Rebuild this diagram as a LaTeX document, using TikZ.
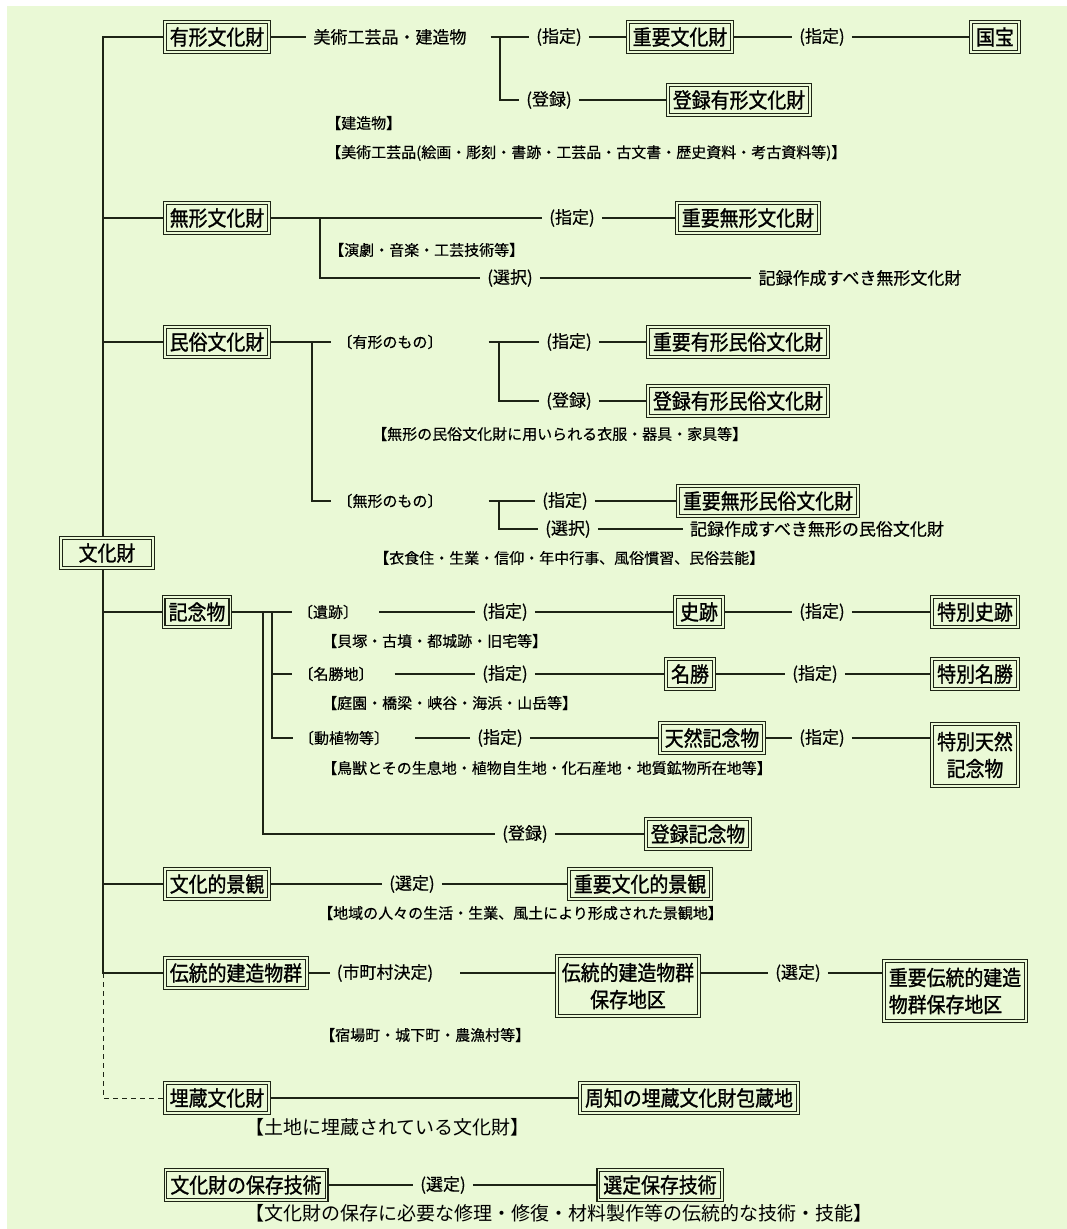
\documentclass[tikz,border=0pt]{standalone}
\usepackage{fontspec}
\setmainfont{Noto Sans CJK JP}
\newfontfamily\jpBoxFam[FakeStretch=0.9,FakeBold=1.2]{Noto Sans CJK JP}
\newfontfamily\jpFam[FakeBold=0.4]{Noto Sans CJK JP}
\newfontfamily\jpPlainFam{Noto Sans CJK JP}
\newcommand\jpBox{\jpBoxFam\fontsize{21}{27}\selectfont}
\newcommand\jpLbl{\jpFam\fontsize{17}{19}\selectfont}
\newcommand\jpNote{\jpFam\fontsize{15}{17}\selectfont}
\newcommand\jpPlain{\jpPlainFam\fontsize{19}{21}\selectfont}
\definecolor{paper}{RGB}{234,249,214}
\definecolor{ink}{RGB}{30,36,22}

\pgfdeclarelayer{paperlayer}
\pgfdeclarelayer{wires}
\pgfsetlayers{paperlayer,wires,main}

\tikzset{
  box/.style={draw=ink, line width=1.1pt, double=paper, double distance=1.6pt,
    fill=paper, font=\jpBox, inner xsep=5pt, inner ysep=3pt, minimum height=30pt},
  lbl/.style={font=\jpLbl, inner xsep=7pt, inner ysep=2pt},
  brk/.style={font=\jpNote, inner xsep=6pt, inner ysep=2pt},
  note/.style={font=\jpNote, anchor=west, inner sep=0pt},
  plain/.style={font=\jpPlain, anchor=west, inner sep=0pt},
  wire/.style={draw=ink, line width=1.4pt},
  dashwire/.style={draw=ink, line width=1pt, dash pattern=on 5pt off 4pt},
}

\begin{document}
\begin{tikzpicture}[x=1pt, y=-1pt]
\begin{pgfonlayer}{paperlayer}
  \fill[white] (0,0) rectangle (1067,1229);
  \fill[paper] (7,6) rectangle (1067,1229);
\end{pgfonlayer}
\useasboundingbox (0,0) rectangle (1067,1229);

% ---- 有形文化財 ----
\node[box] (yukei) at (217,37) {有形文化財};
\node[lbl] (bijutsu) at (390,37) {美術工芸品・建造物};
\coordinate (jA) at (500,37);
\node[lbl] (shiteiA) at (559,37) {(指定)};
\node[box] (juyo) at (680,37) {重要文化財};
\node[lbl] (shiteiB) at (822,37) {(指定)};
\node[box] (kokuho) at (995,37) {国宝};
\node[lbl] (torokuA) at (549,100) {(登録)};
\node[box] (torokuyukei) at (739,100) {登録有形文化財};
\node[note] (noteA) at (326,123) {【建造物】};
\node[note] (noteB) at (326,153) {【美術工芸品(絵画・彫刻・書跡・工芸品・古文書・歴史資料・考古資料等)】};

% ---- 無形文化財 ----
\node[box] (mukei) at (217,218) {無形文化財};
\coordinate (jB) at (320,218);
\node[lbl] (shiteiC) at (572,218) {(指定)};
\node[box] (juyomukei) at (748,218) {重要無形文化財};
\node[lbl] (sentakuA) at (510,278) {(選択)};
\node[lbl] (kirokuA) at (860,278) {記録作成すべき無形文化財};
\node[note] (noteC) at (329,250) {【演劇・音楽・工芸技術等】};

% ---- 民俗文化財 ----
\node[box] (minzoku) at (217,342) {民俗文化財};
\coordinate (jC) at (312,342);
\node[brk] (yukeimono) at (390,342) {〔有形のもの〕};
\coordinate (jD) at (499,342);
\node[lbl] (shiteiD) at (569,342) {(指定)};
\node[box] (juyoyukeiminzoku) at (738,342) {重要有形民俗文化財};
\node[lbl] (torokuB) at (569,401) {(登録)};
\node[box] (torokuminzoku) at (738,401) {登録有形民俗文化財};
\node[note] (noteD) at (372,434) {【無形の民俗文化財に用いられる衣服・器具・家具等】};
\node[brk] (mukeimono) at (390,501) {〔無形のもの〕};
\coordinate (jE) at (499,501);
\node[lbl] (shiteiE) at (565,501) {(指定)};
\node[box] (juyomukeiminzoku) at (768,501) {重要無形民俗文化財};
\node[lbl] (sentakuB) at (568,529) {(選択)};
\node[lbl] (kirokuB) at (817,529) {記録作成すべき無形の民俗文化財};
\node[note] (noteE) at (374,558) {【衣食住・生業・信仰・年中行事、風俗慣習、民俗芸能】};

% ---- 文化財 ----
\node[box, minimum width=92pt] (root) at (107,553) {文化財};

% ---- 記念物 ----
\node[box] (kinen) at (197,612) {記念物};
\coordinate (jF) at (263,612);
\coordinate (jG) at (272,612);
\node[brk] (iseki) at (328,612) {〔遺跡〕};
\node[lbl] (shiteiF) at (505,612) {(指定)};
\node[box] (shiseki) at (699,612) {史跡};
\node[lbl] (shiteiG) at (822,612) {(指定)};
\node[box] (tokushiseki) at (975,612) {特別史跡};
\node[note] (noteF) at (322,641) {【貝塚・古墳・都城跡・旧宅等】};
\node[brk] (meishochi) at (336,674) {〔名勝地〕};
\node[lbl] (shiteiH) at (505,674) {(指定)};
\node[box] (meisho) at (690,674) {名勝};
\node[lbl] (shiteiI) at (815,674) {(指定)};
\node[box] (tokumeisho) at (975,674) {特別名勝};
\node[note] (noteG) at (322,703) {【庭園・橋梁・峡谷・海浜・山岳等】};
\node[brk] (dosho) at (344,738) {〔動植物等〕};
\node[lbl] (shiteiJ) at (500,738) {(指定)};
\node[box] (tennen) at (712,738) {天然記念物};
\node[lbl] (shiteiK) at (822,738) {(指定)};
\node[box, align=center, minimum height=62pt] (tokutennen) at (975,755) {特別天然\\記念物};
\node[note] (noteH) at (322,768) {【鳥獣とその生息地・植物自生地・化石産地・地質鉱物所在地等】};
\node[lbl] (torokuC) at (525,834) {(登録)};
\node[box] (torokukinen) at (698,834) {登録記念物};

% ---- 文化的景観 ----
\node[box] (keikan) at (217,884) {文化的景観};
\node[lbl] (senteiA) at (412,884) {(選定)};
\node[box] (juyokeikan) at (640,884) {重要文化的景観};
\node[note] (noteI) at (318,913) {【地域の人々の生活・生業、風土により形成された景観地】};

% ---- 伝統的建造物群 ----
\node[box] (dentoken) at (236,973) {伝統的建造物群};
\node[lbl] (shichoson) at (385,973) {(市町村決定)};
\node[box, align=center, minimum height=60pt] (hozonchiku) at (628,986) {伝統的建造物群\\保存地区};
\node[lbl] (senteiB) at (798,973) {(選定)};
\node[box, align=left, minimum height=60pt] (juyodento) at (955,991) {重要伝統的建造\\物群保存地区};
\node[note] (noteJ) at (320,1035) {【宿場町・城下町・農漁村等】};

% ---- 埋蔵文化財 ----
\node[box] (maizo) at (217,1098) {埋蔵文化財};
\node[box] (shuchi) at (689,1098) {周知の埋蔵文化財包蔵地};
\node[plain] (noteK) at (245,1127) {【土地に埋蔵されている文化財】};

% ---- 保存技術 ----
\node[box] (hozongi) at (246,1185) {文化財の保存技術};
\node[lbl] (senteiC) at (443,1185) {(選定)};
\node[box] (senteihozon) at (660,1185) {選定保存技術};
\node[plain] (noteL) at (245,1213) {【文化財の保存に必要な修理・修復・材料製作等の伝統的な技術・技能】};

\coordinate (tTop) at (103,37);
\coordinate (tBot) at (103,973);
\coordinate (tEnd) at (103,1098);

\begin{pgfonlayer}{wires}
  % trunk and its branches
  \draw[wire] (yukei.west) -- (tTop) -- (tBot) -- (dentoken.west);
  \draw[wire] (mukei.west -| tTop) -- (mukei.west);
  \draw[wire] (minzoku.west -| tTop) -- (minzoku.west);
  \draw[wire] (kinen.west -| tTop) -- (kinen.west);
  \draw[wire] (keikan.west -| tTop) -- (keikan.west);
  \draw[dashwire] (tBot) -- (tEnd) -- (maizo.west);

  % 有形文化財
  \draw[wire] (yukei.east) -- (bijutsu.west);
  \draw[wire] ([xshift=17pt]bijutsu.east) -- (shiteiA.west);
  \draw[wire] (jA) |- (torokuA.west);
  \draw[wire] (shiteiA.east) -- (juyo.west);
  \draw[wire] (juyo.east) -- (shiteiB.west);
  \draw[wire] (shiteiB.east) -- (kokuho.west);
  \draw[wire] (torokuA.east) -- (torokuyukei.west);

  % 無形文化財
  \draw[wire] (mukei.east) -- (shiteiC.west);
  \draw[wire] (shiteiC.east) -- (juyomukei.west);
  \draw[wire] (jB) |- (sentakuA.west);
  \draw[wire] (sentakuA.east) -- (kirokuA.west);

  % 民俗文化財
  \draw[wire] (minzoku.east) -- (yukeimono.west);
  \draw[wire] (jC) |- (mukeimono.west);
  \draw[wire] ([xshift=40pt]yukeimono.east) -- (shiteiD.west);
  \draw[wire] (jD) |- (torokuB.west);
  \draw[wire] (shiteiD.east) -- (juyoyukeiminzoku.west);
  \draw[wire] (torokuB.east) -- (torokuminzoku.west);
  \draw[wire] ([xshift=40pt]mukeimono.east) -- (shiteiE.west);
  \draw[wire] (jE) |- (sentakuB.west);
  \draw[wire] (shiteiE.east) -- (juyomukeiminzoku.west);
  \draw[wire] (sentakuB.east) -- (kirokuB.west);

  % 記念物
  \draw[wire] (kinen.east) -- (iseki.west);
  \draw[wire] ([xshift=15pt]iseki.east) -- (shiteiF.west);
  \draw[wire] (shiteiF.east) -- (shiseki.west);
  \draw[wire] (shiseki.east) -- (shiteiG.west);
  \draw[wire] (shiteiG.east) -- (tokushiseki.west);
  \draw[wire] (jG) |- (meishochi.west);
  \draw[wire] ([xshift=15pt]meishochi.east) -- (shiteiH.west);
  \draw[wire] (shiteiH.east) -- (meisho.west);
  \draw[wire] (meisho.east) -- (shiteiI.west);
  \draw[wire] (shiteiI.east) -- (tokumeisho.west);
  \draw[wire] (jG) |- (dosho.west);
  \draw[wire] ([xshift=20pt]dosho.east) -- (shiteiJ.west);
  \draw[wire] (shiteiJ.east) -- (tennen.west);
  \draw[wire] (tennen.east) -- (shiteiK.west);
  \draw[wire] (shiteiK.east) -- (shiteiK.east -| tokutennen.west);
  \draw[wire] (jF) |- (torokuC.west);
  \draw[wire] (torokuC.east) -- (torokukinen.west);

  % 文化的景観
  \draw[wire] (keikan.east) -- (senteiA.west);
  \draw[wire] (senteiA.east) -- (juyokeikan.west);

  % 伝統的建造物群
  \draw[wire] (dentoken.east) -- (shichoson.west);
  \draw[wire] ([xshift=20pt]shichoson.east) -- (shichoson.east -| hozonchiku.west);
  \draw[wire] (senteiB.west -| hozonchiku.east) -- (senteiB.west);
  \draw[wire] (senteiB.east) -- (senteiB.east -| juyodento.west);

  % 埋蔵文化財・保存技術
  \draw[wire] (maizo.east) -- (shuchi.west);
  \draw[wire] (hozongi.east) -- (senteiC.west);
  \draw[wire] (senteiC.east) -- (senteihozon.west);
\end{pgfonlayer}
\end{tikzpicture}
\end{document}
